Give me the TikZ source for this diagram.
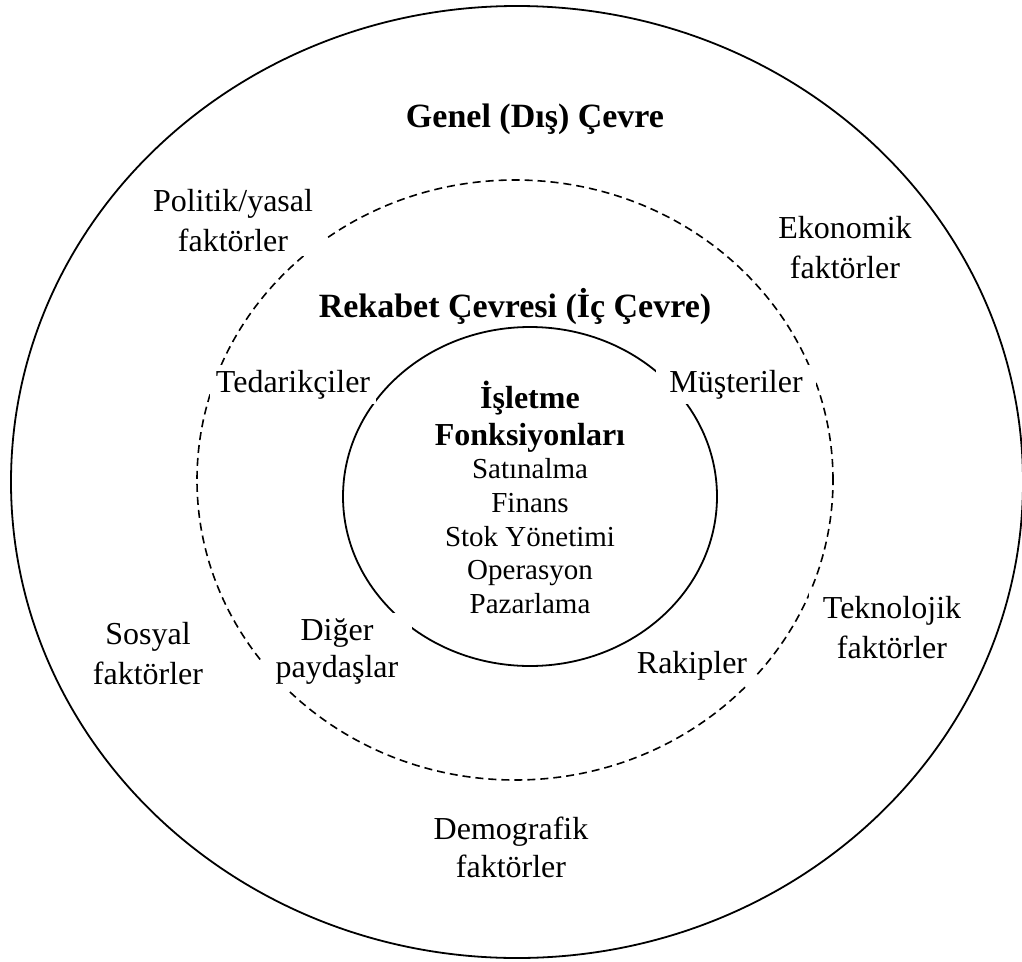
\documentclass[tikz,border=0pt]{standalone}
\usepackage{fontspec}
\setmainfont{LiberationSerif}[Extension=.ttf, UprightFont=*-Regular, BoldFont=*-Bold, ItalicFont=*-Italic, BoldItalicFont=*-BoldItalic]
\begin{document}
\begin{tikzpicture}[x=1pt,y=-1pt,
  lbl/.style={fill=white, inner xsep=12pt, inner ysep=5pt, align=center,
    anchor=base, font=\fontsize{32}{40}\selectfont},
  ttl/.style={anchor=base, inner sep=0pt, font=\fontsize{34}{40}\selectfont\bfseries},
  fnhead/.style={anchor=base, inner sep=0pt, font=\fontsize{32}{37}\selectfont\bfseries},
  fnitem/.style={anchor=base, inner sep=0pt, font=\fontsize{29}{34}\selectfont},
  ring/.style={line width=1.8pt},
  dashring/.style={line width=1.6pt, dash pattern=on 8pt off 5pt},
]
\useasboundingbox (0,0) rectangle (1022,961);

% the three environments
\draw[ring] (517,482) ellipse [x radius=506pt, y radius=476pt];
\draw[dashring] (515,480) ellipse [x radius=318pt, y radius=300pt];
\draw[ring] (530,496.5) ellipse [x radius=187pt, y radius=169.5pt];

% general environment
\node[ttl] (genel) at (535,127) {Genel (Dış) Çevre};
\node[lbl, text width=162pt] (politik) at (233,211) {Politik/yasal\\faktörler};
\node[lbl, text width=136pt] (ekonomik) at (845,238) {Ekonomik\\faktörler};
\node[lbl, text width=113pt] (sosyal) at (148,644) {Sosyal\\faktörler};
\node[lbl, text width=143pt] (teknolojik) at (892,618) {Teknolojik\\faktörler};
\node[lbl, text width=158pt, font=\fontsize{32}{38}\selectfont] (demografik) at (511,839) {Demografik\\faktörler};

% competitive environment
\node[ttl] (rekabet) at (515,317) {Rekabet Çevresi (İç Çevre)};
\node[lbl, text width=158pt, inner xsep=4pt] (tedarik) at (293,392) {Tedarikçiler};
\node[lbl, text width=136pt] (musteri) at (736,392) {Müşteriler};
\node[lbl, text width=126pt, font=\fontsize{32}{37}\selectfont] (diger) at (337,640) {Diğer\\paydaşlar};
\node[lbl, text width=113pt, inner xsep=6pt] (rakip) at (692,673) {Rakipler};

% business functions
\node[fnhead] (f1) at (530,408) {İşletme};
\node[fnhead] (f2) at (530,445) {Fonksiyonları};
\node[fnitem] (f3) at (530,478) {Satınalma};
\node[fnitem] (f4) at (530,512) {Finans};
\node[fnitem] (f5) at (530,546) {Stok Yönetimi};
\node[fnitem] (f6) at (530,579) {Operasyon};
\node[fnitem] (f7) at (530,613) {Pazarlama};
\end{tikzpicture}
\end{document}
